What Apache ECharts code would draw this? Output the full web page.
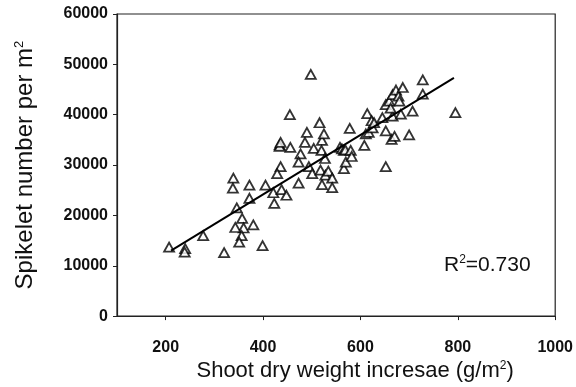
<!DOCTYPE html>
<html>
<head>
<meta charset="utf-8">
<script src="https://cdn.jsdelivr.net/npm/echarts@6/dist/echarts.min.js"></script>
<style>
  html, body { margin: 0; padding: 0; background: #fff; }
  #chart { width: 576px; height: 387px; }
</style>
</head>
<body>
<div id="chart"></div>
<script>
// shoot dry weight increase (g/m2) and spikelet number per m2
var shootDW = [
  207, 240, 239, 277, 320, 339, 338, 346, 357, 360,
  343, 356, 351, 380, 399, 372, 372, 405, 423, 421,
  436, 429, 434, 438, 448, 434, 436, 455, 456, 477,
  473, 473, 486, 490, 498, 494, 501, 504, 518, 521,
  516, 521, 520, 525, 527, 528, 534, 542, 542, 558,
  562, 566, 569, 566, 570, 578, 580, 582, 608, 611,
  614, 617, 623, 625, 628, 645, 652, 664, 670, 652,
  652, 659, 666, 673, 678, 680, 666, 683, 687, 662,
  700, 707, 728, 728, 795
]
var spikelets = [
  13700, 13400, 12700, 16000, 12600, 27400, 25400, 21500, 19400, 17500,
  17600, 16000, 14700, 18100, 14000, 26000, 23400, 26000, 22400, 24500,
  29700, 28300, 34000, 25100, 24000, 33700, 34500, 40000, 33500, 32200,
  26400, 30600, 34500, 36500, 48000, 29700, 28300, 33300, 29000, 26100,
  38400, 34900, 32900, 36200, 31300, 28000, 28800, 27400, 25500, 33500,
  33200, 32900, 33000, 29300, 30600, 37300, 32900, 31700, 33900, 36200,
  40200, 36500, 38800, 37400, 38400, 39400, 36800, 35100, 35700, 29700,
  42000, 42700, 44000, 44900, 43700, 42700, 39700, 40100, 45400, 41300,
  36000, 40700, 46900, 44100, 40400
]
// regression line end points
var fitX = [211, 792]
var fitY = [13000, 47300]

var xTicks = [200, 400, 600, 800, 1000]

var chart = echarts.init(document.getElementById('chart'))

var points = shootDW.map(function (x, i) { return [x, spikelets[i]] })
var fit = fitX.map(function (x, i) { return [x, fitY[i]] })

var supStyle = { fontSize: 12, verticalAlign: 'top', padding: [0, 0, 10, 0] }

chart.setOption({
  animation: false,
  textStyle: { fontFamily: 'Liberation Sans' },
  grid: {
    left: 117,
    right: 19,
    top: 14,
    bottom: 65,
    show: true,
    borderColor: '#222',
    borderWidth: 1.2
  },
  xAxis: {
    type: 'value',
    min: 100,
    max: 1000,
    splitLine: { show: false },
    axisLine: { lineStyle: { color: '#222', width: 1.2 } },
    axisTick: {
      customValues: xTicks,
      length: 4,
      lineStyle: { color: '#222' }
    },
    axisLabel: {
      customValues: xTicks,
      margin: 23,
      fontSize: 16,
      fontWeight: 'bold',
      color: '#111',
      formatter: function (v) { return String(v) }
    },
    name: 'Shoot dry weight incresae (g/m{sup|2})',
    nameLocation: 'middle',
    nameGap: 37,
    nameTextStyle: {
      fontSize: 22,
      color: '#111',
      padding: [0, 0, 0, 38],
      rich: { sup: supStyle }
    }
  },
  yAxis: {
    type: 'value',
    min: 0,
    max: 60000,
    interval: 10000,
    splitLine: { show: false },
    axisLine: { show: true, lineStyle: { color: '#222', width: 1.2 } },
    axisTick: { show: true, length: 4, lineStyle: { color: '#222' } },
    axisLabel: {
      margin: 9,
      fontSize: 16,
      fontWeight: 'bold',
      color: '#111',
      formatter: function (v) { return String(v) }
    },
    name: 'Spikelet number per m{sup|2}',
    nameLocation: 'middle',
    nameGap: 80,
    nameTextStyle: {
      fontSize: 24,
      color: '#111',
      rich: { sup: { fontSize: 13, verticalAlign: 'top', padding: [0, 0, 11, 0] } }
    }
  },
  graphic: [{
    type: 'text',
    left: 444,
    top: 254,
    style: {
      text: 'R{sup|2}=0.730',
      fontSize: 21,
      fontFamily: 'Liberation Sans',
      fill: '#111',
      rich: { sup: supStyle }
    }
  }],
  series: [
    {
      type: 'scatter',
      data: points,
      symbol: 'triangle',
      symbolSize: [10, 9],
      itemStyle: { color: '#fff', borderColor: '#000', borderWidth: 1.8 },
      z: 3
    },
    {
      type: 'line',
      data: fit,
      symbol: 'none',
      lineStyle: { color: '#000', width: 2 },
      z: 4
    }
  ]
})
</script>
</body>
</html>
